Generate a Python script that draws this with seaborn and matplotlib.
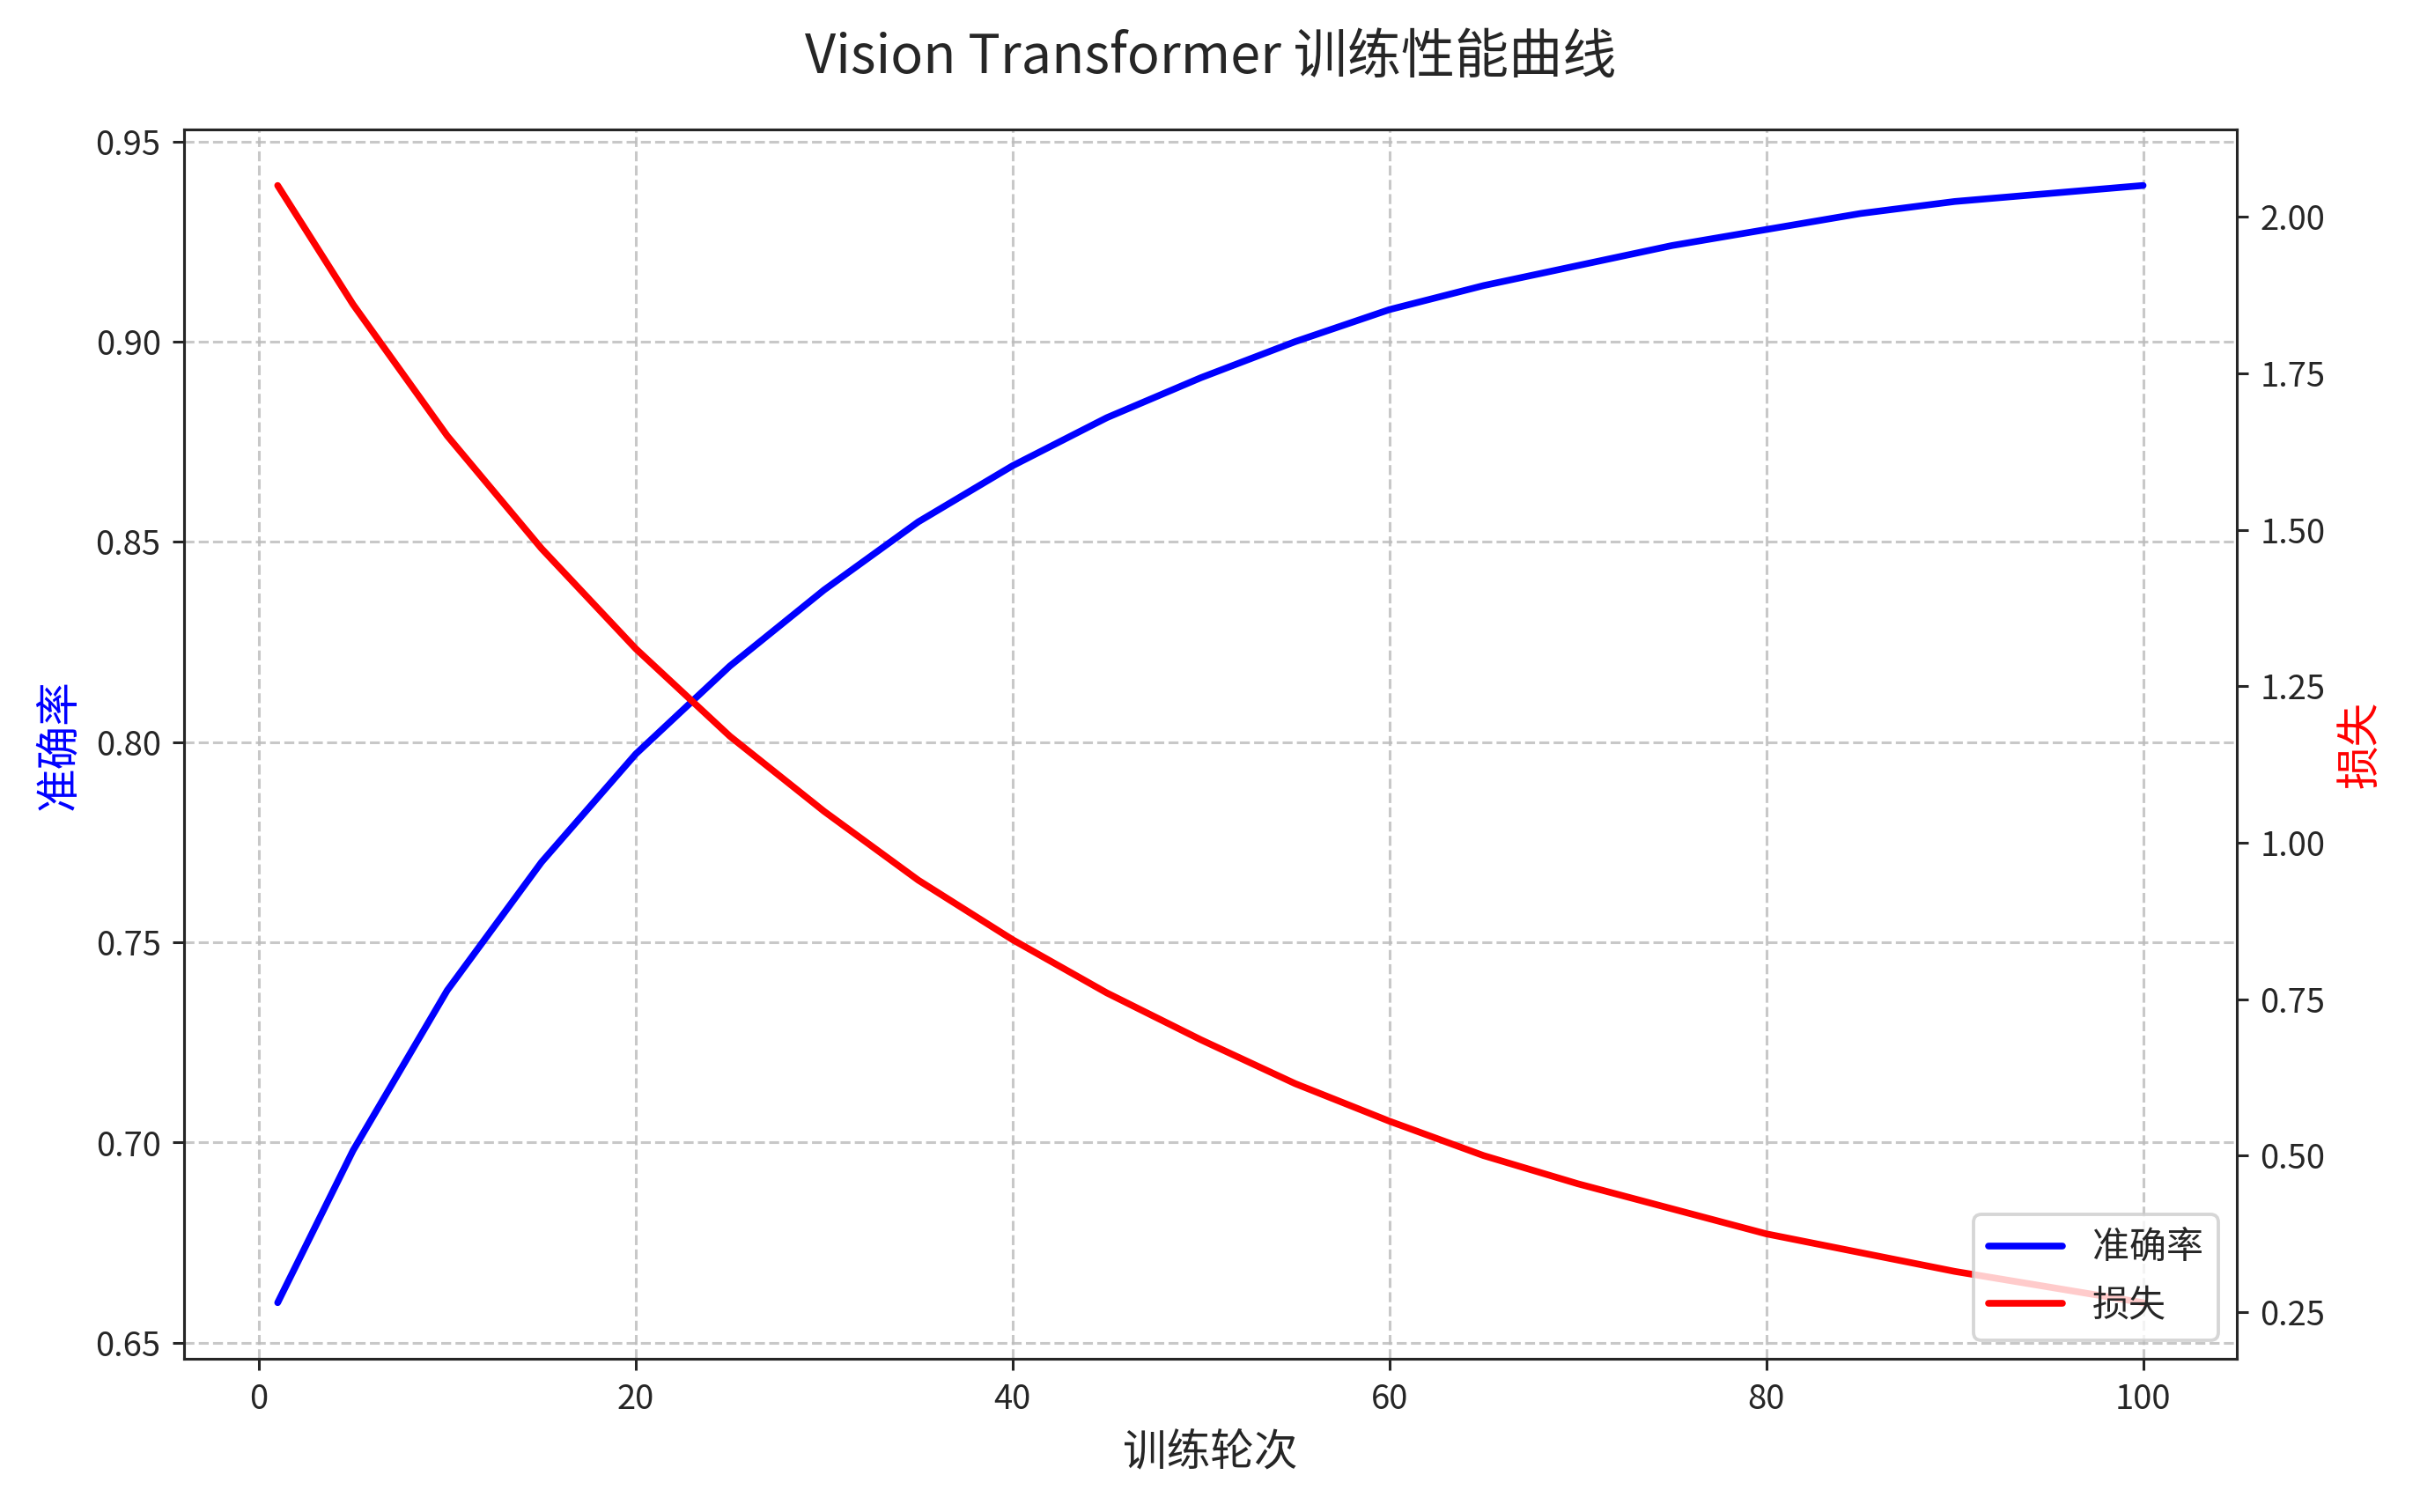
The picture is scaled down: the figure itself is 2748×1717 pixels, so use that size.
import numpy as np
import pandas as pd
import matplotlib
matplotlib.use('Agg')
import matplotlib.pyplot as plt
import seaborn as sns

epochs = [1, 5, 10, 15, 20, 25, 30, 35, 40, 45, 50, 55, 60, 65, 70, 75, 80, 85, 90, 95, 100]
accuracy = [0.660, 0.698, 0.738, 0.770, 0.797, 0.819, 0.838, 0.855, 0.869, 0.881, 0.891,
            0.900, 0.908, 0.914, 0.919, 0.924, 0.928, 0.932, 0.935, 0.937, 0.939]
loss = [2.05, 1.86, 1.65, 1.47, 1.31, 1.17, 1.05, 0.94, 0.845, 0.76, 0.685,
        0.615, 0.555, 0.50, 0.455, 0.415, 0.375, 0.345, 0.315, 0.29, 0.265]

sns.set_style('ticks')
plt.rcParams['font.family'] = ['Noto Sans CJK SC', 'DejaVu Sans']
plt.rcParams['axes.unicode_minus'] = False

df = pd.DataFrame({'epoch': epochs, 'acc': accuracy, 'loss': loss})

fig, ax1 = plt.subplots(figsize=(9.996, 6.244), dpi=275)
sns.lineplot(data=df, x='epoch', y='acc', ax=ax1, color='blue', linewidth=2, label='准确率', legend=False)
ax1.set_xlabel('训练轮次', fontsize=13)
ax1.set_ylabel('准确率', color='blue', fontsize=13)
ax1.grid(True, linestyle='--', color='#bbbbbb', alpha=0.8)

ax2 = ax1.twinx()
sns.lineplot(data=df, x='epoch', y='loss', ax=ax2, color='red', linewidth=2, label='损失', legend=False)
ax2.set_ylabel('损失', color='red', fontsize=13)

h1, l1 = ax1.get_legend_handles_labels()
h2, l2 = ax2.get_legend_handles_labels()
ax2.legend(h1 + h2, l1 + l2, loc='lower right', fontsize=11)

fig.suptitle('Vision Transformer 训练性能曲线', fontsize=16)
fig.tight_layout()
fig.savefig('out.png', dpi=275)
